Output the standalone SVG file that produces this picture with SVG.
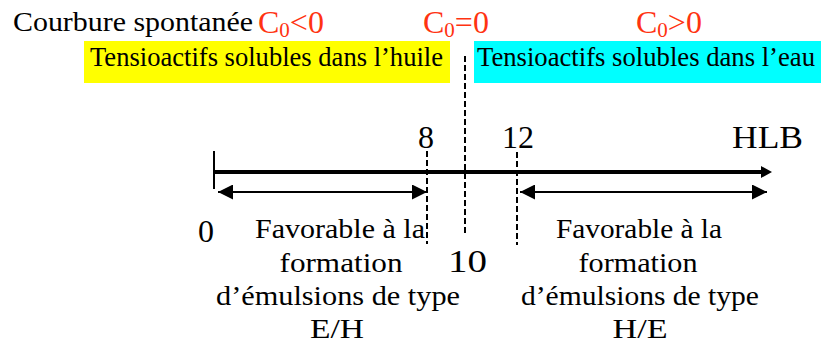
<svg xmlns="http://www.w3.org/2000/svg" width="821" height="347" viewBox="0 0 821 347">
  <style>
    text { font-family: "Liberation Serif", "Times New Roman", "DejaVu Serif", serif; fill: #000; }
    .hdr { font-size: 28px; }
    .red { font-size: 32px; fill: #FF3311; }
    .band { font-size: 28px; }
    .num { font-size: 32px; }
    .desc { font-size: 28px; text-anchor: middle; }
    .dash { stroke: #000; stroke-width: 2; stroke-dasharray: 6 3; fill: none; }
    .thin { stroke: #000; stroke-width: 2; fill: none; }
  </style>
  <defs>
    <marker id="headBig" markerUnits="userSpaceOnUse" markerWidth="15" markerHeight="15" viewBox="0 0 15 15" refX="15" refY="7.5" orient="auto-start-reverse">
      <path d="M0,0 L15,7.5 L0,15 Z" fill="#000"/>
    </marker>
    <marker id="headAxis" markerUnits="userSpaceOnUse" markerWidth="11" markerHeight="12" viewBox="0 0 11 12" refX="1" refY="6" orient="auto">
      <path d="M0,0 L11,6 L0,12 Z" fill="#000"/>
    </marker>
  </defs>

  <rect width="821" height="347" fill="#fff"/>

  <g id="header">
    <text class="hdr" x="13" y="31" textLength="240" lengthAdjust="spacingAndGlyphs">Courbure spontanée</text>
    <text class="red" x="258" y="33">C<tspan font-size="21" dy="4">0</tspan><tspan dy="-4">&lt;0</tspan></text>
    <text class="red" x="423" y="33">C<tspan font-size="21" dy="4">0</tspan><tspan dy="-4">=0</tspan></text>
    <text class="red" x="636" y="33">C<tspan font-size="21" dy="4">0</tspan><tspan dy="-4">&gt;0</tspan></text>
  </g>

  <g id="band-huile">
    <rect x="84" y="41" width="366" height="42" fill="#FFFF00"/>
    <text class="band" x="90" y="66" textLength="353" lengthAdjust="spacingAndGlyphs">Tensioactifs solubles dans l’huile</text>
  </g>
  <g id="band-eau">
    <rect x="474" y="41" width="347" height="42" fill="#00FFFF"/>
    <text class="band" x="477" y="66" textLength="338" lengthAdjust="spacingAndGlyphs">Tensioactifs solubles dans l’eau</text>
  </g>

  <g id="connectors">
    <line x1="213" y1="172" x2="762" y2="172" stroke="#000" stroke-width="4" marker-end="url(#headAxis)"/>
    <line class="thin" x1="214" y1="151" x2="214" y2="189"/>
    <line class="dash" x1="427" y1="151" x2="427" y2="244"/>
    <line class="dash" x1="465" y1="56" x2="465" y2="235"/>
    <line class="dash" x1="517" y1="152" x2="517" y2="245"/>
    <line class="thin" x1="218" y1="192" x2="427" y2="192" marker-start="url(#headBig)" marker-end="url(#headBig)"/>
    <line class="thin" x1="520" y1="192" x2="767" y2="192" marker-start="url(#headBig)" marker-end="url(#headBig)"/>
  </g>

  <g id="scale-labels">
    <text class="num" x="418" y="148">8</text>
    <text class="num" x="502" y="148">12</text>
    <text class="num" x="732" y="148" font-size="31" textLength="71" lengthAdjust="spacingAndGlyphs">HLB</text>
    <text class="num" x="198" y="242" font-size="31">0</text>
    <text class="num" x="448" y="272" font-size="35" textLength="39" lengthAdjust="spacingAndGlyphs">10</text>
  </g>

  <g id="region-EH">
    <text class="desc" x="340" y="238" textLength="170" lengthAdjust="spacingAndGlyphs">Favorable à la</text>
    <text class="desc" x="341" y="272" textLength="123" lengthAdjust="spacingAndGlyphs">formation</text>
    <text class="desc" x="338" y="305" textLength="244" lengthAdjust="spacingAndGlyphs">d’émulsions de type</text>
    <text class="desc" x="337" y="338" textLength="54" lengthAdjust="spacingAndGlyphs">E/H</text>
  </g>
  <g id="region-HE">
    <text class="desc" x="639" y="238" textLength="166" lengthAdjust="spacingAndGlyphs">Favorable à la</text>
    <text class="desc" x="638" y="272" textLength="119" lengthAdjust="spacingAndGlyphs">formation</text>
    <text class="desc" x="640" y="305" textLength="238" lengthAdjust="spacingAndGlyphs">d’émulsions de type</text>
    <text class="desc" x="640" y="338" textLength="55" lengthAdjust="spacingAndGlyphs">H/E</text>
  </g>
</svg>
